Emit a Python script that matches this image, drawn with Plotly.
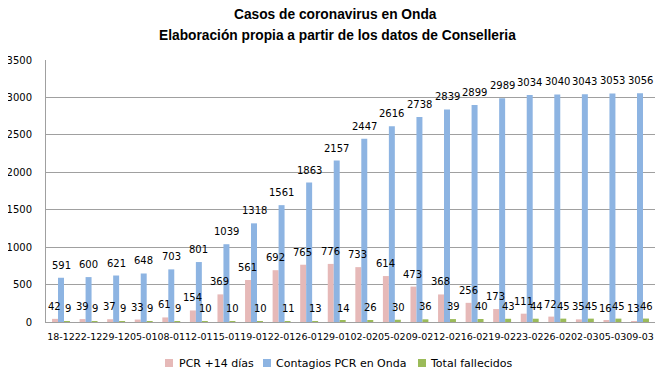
import plotly.graph_objects as go

categories = ["18-12", "22-12", "29-12", "05-01", "08-01", "12-01", "15-01", "19-01",
              "22-01", "26-01", "29-01", "02-02", "05-02", "09-02", "12-02", "16-02",
              "19-02", "23-02", "26-02", "02-03", "05-03", "09-03"]
pcr14 = [42, 39, 37, 33, 61, 154, 369, 561, 692, 765, 776, 733, 614, 473, 368, 256,
         173, 111, 72, 35, 16, 13]
contagios = [591, 600, 621, 648, 703, 801, 1039, 1318, 1561, 1863, 2157, 2447, 2616,
             2738, 2839, 2899, 2989, 3034, 3040, 3043, 3053, 3056]
fallecidos = [9, 9, 9, 9, 9, 10, 10, 10, 11, 13, 14, 26, 30, 36, 39, 40, 43, 44, 45,
              45, 45, 46]
series_names = ["PCR +14 días", "Contagios PCR en Onda", "Total fallecidos"]

font = "DejaVu Sans"
lab = dict(family=font, size=10, color="#000000")
tick = dict(family=font, size=9.5, color="#000000")

colors = ["#E6B9B8", "#8DB4E2", "#9BBB59"]
shifts = [-6.5, 0, 6.5]
# legend layout (paper coords)
leg_sq = [(0.1954, 0.2085), (0.3563, 0.3695), (0.6108, 0.6240)]
leg_tx = [0.2151, 0.3744, 0.6273]

fig = go.Figure()
annotations = []
shapes = []
for name, vals, col, shift, sq, tx in zip(series_names, [pcr14, contagios, fallecidos],
                                          colors, shifts, leg_sq, leg_tx):
    fig.add_trace(go.Bar(x=categories, y=vals, name=name, marker_color=col,
                         marker_line_width=0, showlegend=False))
    for c, v in zip(categories, vals):
        annotations.append(dict(x=c, y=v, text=str(v), xref="x", yref="y",
                                xshift=shift, yshift=5, xanchor="center",
                                yanchor="bottom", showarrow=False, font=lab))
    shapes.append(dict(type="rect", xref="paper", yref="paper", x0=sq[0], x1=sq[1],
                       y0=-0.1718, y1=-0.1412, fillcolor=col, line=dict(width=0)))
    annotations.append(dict(text=name, xref="paper", yref="paper", x=tx, y=-0.1565,
                            xanchor="left", yanchor="middle", showarrow=False,
                            font=dict(family=font, size=11, color="#000000")))

title_font = dict(family="Liberation Sans", size=13.75, color="#000000", weight="bold")
annotations += [
    dict(text="Casos de coronavirus en Onda", xref="paper", yref="paper",
         x=0.476, y=1.172, xanchor="center", yanchor="middle", showarrow=False,
         font=title_font),
    dict(text="Elaboración propia a partir de los datos de Conselleria", xref="paper",
         yref="paper", x=0.479, y=1.095, xanchor="center", yanchor="middle",
         showarrow=False, font=title_font),
]
shapes.append(dict(type="line", xref="paper", yref="paper", x0=1.0213, x1=1.0213,
                   y0=-0.25, y1=1.23, line=dict(color="#808080", width=1)))

fig.update_layout(
    width=670, height=377,
    margin=dict(l=38, r=23, t=52, b=63, autoexpand=False),
    paper_bgcolor="white", plot_bgcolor="white",
    barmode="group", bargap=0.35, bargroupgap=0,
    showlegend=False,
    annotations=annotations,
    shapes=shapes,
)
fig.update_xaxes(type="category", tickangle=0, tickfont=tick, showline=True,
                 linecolor="#A0A0A0", ticks="", showgrid=False, ticklabelstandoff=6)
fig.update_yaxes(range=[0, 3500], dtick=500, tickfont=lab, showline=True,
                 linecolor="#A0A0A0", gridcolor="#A0A0A0", gridwidth=1, ticks="",
                 zeroline=False, mirror=False, ticklabelstandoff=11)

fig.write_html("out.html")
